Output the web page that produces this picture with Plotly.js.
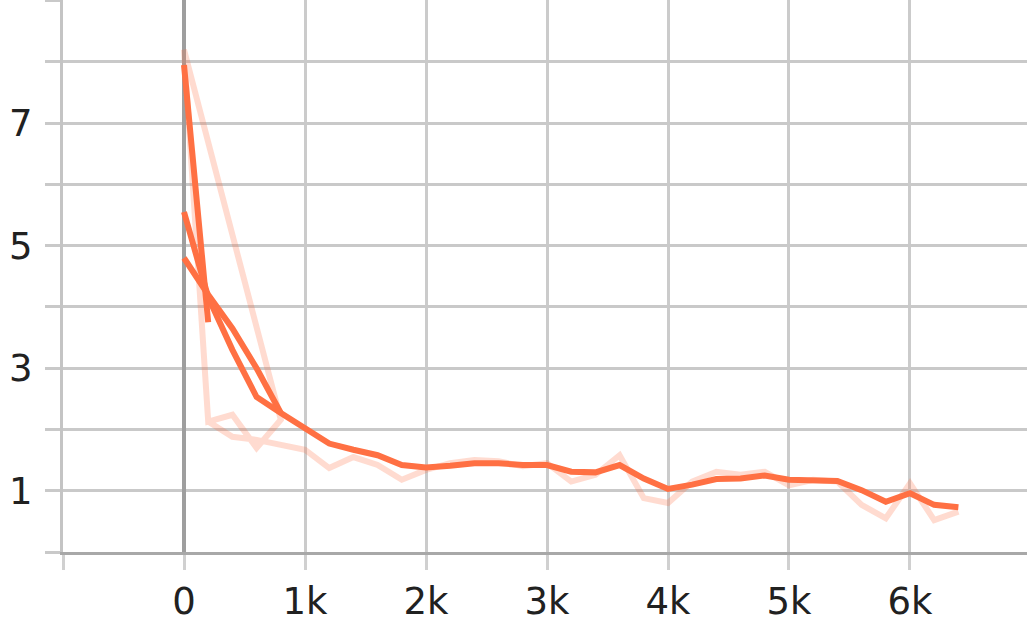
<!DOCTYPE html>
<html>
<head>
<meta charset="utf-8">
<script src="https://cdn.plot.ly/plotly-3.0.1.min.js"></script>
<style>
  html, body { margin: 0; padding: 0; background: #ffffff; }
  #chart { width: 1031px; height: 625px; }
</style>
</head>
<body>
<div id="chart"></div>
<script>
// ---- data ----
// Raw (faint) values: first, interrupted attempt, then the restarted run
const rawRestartSteps  = [0, 200, 400, 600, 800];
const rawRestartValues = [8.2, 2.13, 2.24, 1.70, 2.16];
const rawSteps  = [0, 200, 400, 600, 800, 1000, 1200, 1400, 1600, 1800, 2000, 2200, 2400, 2600, 2800, 3000, 3200, 3400, 3600, 3800, 4000, 4200, 4400, 4600, 4800, 5000, 5200, 5400, 5600, 5800, 6000, 6200, 6400];
const rawValues = [8.2, 2.13, 1.88, 1.83, 1.75, 1.67, 1.37, 1.55, 1.42, 1.18, 1.34, 1.45, 1.50, 1.48, 1.40, 1.45, 1.15, 1.26, 1.58, 0.88, 0.80, 1.15, 1.31, 1.26, 1.31, 1.09, 1.18, 1.15, 0.77, 0.55, 1.12, 0.52, 0.66];

// Smoothed (bold) values
const smoothShortSteps  = [0, 200];
const smoothShortValues = [7.95, 3.75];
const smoothBranchSteps  = [0, 200, 400, 600, 800];
const smoothBranchValues = [4.8, 4.2, 3.65, 3.0, 2.27];
const smoothSteps  = [0, 200, 400, 600, 800, 1000, 1200, 1400, 1600, 1800, 2000, 2200, 2400, 2600, 2800, 3000, 3200, 3400, 3600, 3800, 4000, 4200, 4400, 4600, 4800, 5000, 5200, 5400, 5600, 5800, 6000, 6200, 6400];
const smoothValues = [5.55, 4.16, 3.3, 2.53, 2.27, 2.02, 1.77, 1.67, 1.58, 1.42, 1.38, 1.41, 1.45, 1.45, 1.42, 1.42, 1.31, 1.30, 1.42, 1.20, 1.03, 1.10, 1.19, 1.20, 1.25, 1.18, 1.18, 1.16, 1.01, 0.82, 0.96, 0.77, 0.73];

// Tick labels
const xTickVals = [-1000, 0, 1000, 2000, 3000, 4000, 5000, 6000];
const xTickText = ['', '0', '1k', '2k', '3k', '4k', '5k', '6k'];
const yTickVals = [0, 1, 2, 3, 4, 5, 6, 7, 8, 9];
const yTickText = ['', '1', '', '3', '', '5', '', '7', '', ''];

// ---- chart ----
const ORANGE = '#ff7043';
const FAINT = 'rgba(255,112,67,0.25)';

const traces = [
  {
    x: rawRestartSteps.concat(rawSteps),
    y: rawRestartValues.concat(rawValues),
    mode: 'lines', type: 'scatter',
    line: { color: FAINT, width: 6 },
    hoverinfo: 'skip', showlegend: false
  },
  {
    x: smoothShortSteps, y: smoothShortValues,
    mode: 'lines', type: 'scatter',
    line: { color: ORANGE, width: 6 },
    hoverinfo: 'skip', showlegend: false
  },
  {
    x: smoothBranchSteps, y: smoothBranchValues,
    mode: 'lines', type: 'scatter',
    line: { color: ORANGE, width: 6 },
    hoverinfo: 'skip', showlegend: false
  },
  {
    x: smoothSteps, y: smoothValues,
    mode: 'lines', type: 'scatter',
    line: { color: ORANGE, width: 6 },
    hoverinfo: 'skip', showlegend: false
  }
];

const layout = {
  width: 1031, height: 625,
  margin: { l: 63, r: 4, t: 0, b: 73, pad: 0 },
  paper_bgcolor: '#ffffff', plot_bgcolor: '#ffffff',
  showlegend: false,
  font: { family: 'DejaVu Sans, sans-serif', size: 37, color: '#212121' },
  xaxis: {
    range: [-1000, 6967],
    tickmode: 'array', tickvals: xTickVals, ticktext: xTickText,
    showgrid: true, gridcolor: '#cbcbcb', gridwidth: 3,
    zeroline: true, zerolinecolor: '#9e9e9e', zerolinewidth: 4,
    showline: true, linecolor: '#a8a8a8', linewidth: 3,
    ticks: 'outside', ticklen: 15, tickwidth: 3, tickcolor: '#d0d0d0',
    tickfont: { family: 'DejaVu Sans, sans-serif', size: 37, color: '#212121' },
    fixedrange: true
  },
  yaxis: {
    range: [0, 9.012],
    tickmode: 'array', tickvals: yTickVals, ticktext: yTickText,
    showgrid: true, gridcolor: '#c9c9c9', gridwidth: 3,
    zeroline: false,
    showline: true, linecolor: '#c4c4c4', linewidth: 3,
    ticks: 'outside', ticklen: 15, tickwidth: 3, tickcolor: '#c9c9c9',
    ticklabelstandoff: 5,
    tickfont: { family: 'DejaVu Sans, sans-serif', size: 37, color: '#212121' },
    fixedrange: true
  },
  hovermode: false
};

Plotly.newPlot('chart', traces, layout, { displayModeBar: false, staticPlot: true });
</script>
</body>
</html>
